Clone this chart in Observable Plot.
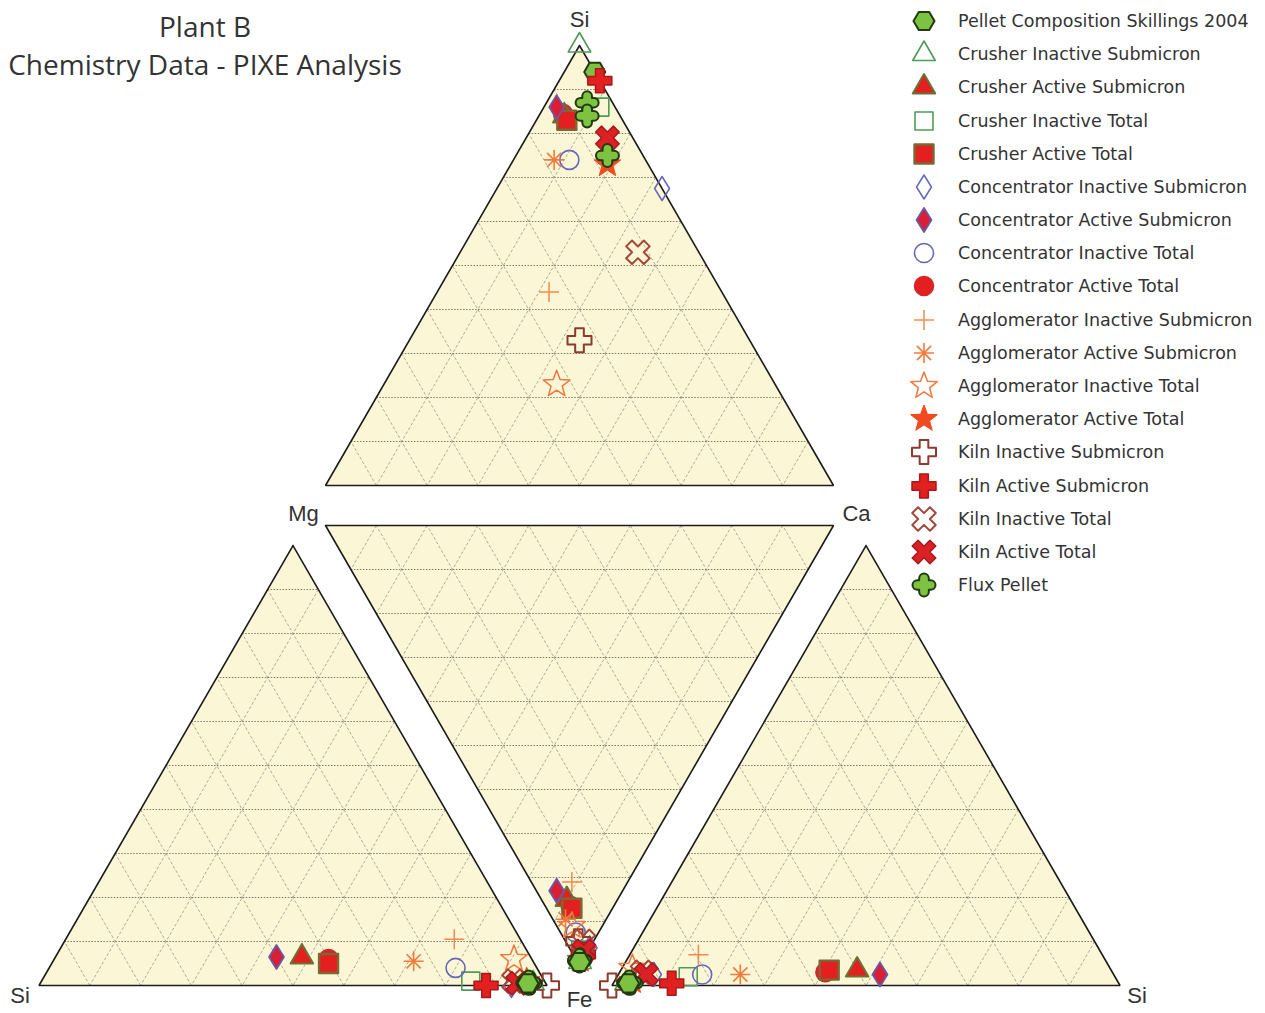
<!DOCTYPE html>
<html><head><meta charset="utf-8">
<script src="https://cdn.jsdelivr.net/npm/d3@7"></script>
<script src="https://cdn.jsdelivr.net/npm/@observablehq/plot@0.6"></script>
<style>
body{margin:0;background:#fff;}
#wrap{position:relative;width:1265px;height:1013px;overflow:hidden;background:#fff;}
#title{position:absolute;left:0;top:7px;width:410px;font-family:"Open Sans";font-size:28px;color:#333;text-align:center;line-height:38px;white-space:nowrap;}
.row{position:absolute;left:909px;height:30px;display:flex;align-items:center;white-space:nowrap;}
.row span{margin-left:19px;font-family:"DejaVu Sans";font-size:17.5px;color:#333;}
</style></head>
<body><div id="wrap"><div id="chart"></div>
<div id="title">Plant B<br>Chemistry Data - PIXE Analysis</div>
<div id="legend"></div></div>
<script>
// ---------- DATA ----------
const series = [
  "Pellet Composition Skillings 2004",
  "Crusher Inactive Submicron",
  "Crusher Active Submicron",
  "Crusher Inactive Total",
  "Crusher Active Total",
  "Concentrator Inactive Submicron",
  "Concentrator Active Submicron",
  "Concentrator Inactive Total",
  "Concentrator Active Total",
  "Agglomerator Inactive Submicron",
  "Agglomerator Active Submicron",
  "Agglomerator Inactive Total",
  "Agglomerator Active Total",
  "Kiln Inactive Submicron",
  "Kiln Active Submicron",
  "Kiln Inactive Total",
  "Kiln Active Total",
  "Flux Pellet"
];

// top face: % Si, Mg, Ca
const siMgCa = [
  ["Pellet Composition Skillings 2004", 94, 0, 6],
  ["Crusher Inactive Submicron", 100, 0, 0],
  ["Crusher Active Submicron", 84, 11, 5],
  ["Crusher Inactive Total", 86, 3, 11],
  ["Crusher Active Total", 83, 11, 6],
  ["Concentrator Inactive Submicron", 67.5, 0, 32.5],
  ["Concentrator Active Submicron", 86, 11.5, 2.5],
  ["Concentrator Inactive Total", 74, 15, 11],
  ["Concentrator Active Total", 84.5, 11, 4.5],
  ["Agglomerator Inactive Submicron", 44, 34, 22],
  ["Agglomerator Active Submicron", 74, 18, 8],
  ["Agglomerator Inactive Total", 23, 43, 34],
  ["Agglomerator Active Total", 73, 8, 19],
  ["Kiln Inactive Submicron", 33, 33.5, 33.5],
  ["Kiln Active Submicron", 92, 0, 8],
  ["Kiln Inactive Total", 53, 12, 35],
  ["Kiln Active Total", 79, 5, 16],
  ["Flux Pellet", 87, 5, 8],
  ["Flux Pellet", 84, 6.5, 9.5],
  ["Flux Pellet", 75, 7, 18]
];

// centre face: % Mg, Ca, Fe
const mgCaFe = [
  ["Pellet Composition Skillings 2004", 0.4, 0.4, 99.2],
  ["Crusher Inactive Submicron", 0.3, 0.5, 99.2],
  ["Crusher Active Submicron", 10, 5, 85],
  ["Crusher Inactive Total", 1.5, 2, 96.5],
  ["Crusher Active Total", 8, 5, 87],
  ["Concentrator Inactive Submicron", 0, 4, 96],
  ["Concentrator Active Submicron", 13, 4, 83],
  ["Concentrator Inactive Total", 4.5, 3, 92.5],
  ["Concentrator Active Total", 8.5, 5, 86.5],
  ["Agglomerator Inactive Submicron", 11, 8, 81],
  ["Agglomerator Active Submicron", 8, 2.5, 89.5],
  ["Agglomerator Inactive Total", 6, 3, 91],
  ["Agglomerator Active Total", 0.5, 0.8, 98.7],
  ["Kiln Inactive Submicron", 3, 2.5, 94.5],
  ["Kiln Active Submicron", 0.5, 2, 97.5],
  ["Kiln Inactive Total", 2, 3.5, 94.5],
  ["Kiln Active Total", 0.8, 2.5, 96.7],
  ["Flux Pellet", 0.5, 0.5, 99],
  ["Flux Pellet", 0.5, 0.8, 98.7],
  ["Flux Pellet", 0.6, 0.6, 98.8]
];

// lower-left face: % Mg, Si, Fe
const mgSiFe = [
  ["Pellet Composition Skillings 2004", 0.5, 3.5, 96],
  ["Crusher Inactive Submicron", 0.5, 2.5, 97],
  ["Crusher Active Submicron", 6.5, 45, 48.5],
  ["Crusher Inactive Total", 1, 14.5, 84.5],
  ["Crusher Active Total", 5, 40.5, 54.5],
  ["Concentrator Inactive Submicron", 0, 7, 93],
  ["Concentrator Active Submicron", 6.5, 50, 43.5],
  ["Concentrator Inactive Total", 4, 16, 80],
  ["Concentrator Active Total", 6, 40, 54],
  ["Agglomerator Inactive Submicron", 10.5, 13, 76.5],
  ["Agglomerator Active Submicron", 5.5, 23.5, 71],
  ["Agglomerator Inactive Total", 6, 3.5, 90.5],
  ["Agglomerator Active Total", 1, 3.5, 95.5],
  ["Kiln Inactive Submicron", 0, 0, 100],
  ["Kiln Active Submicron", 0, 12, 88],
  ["Kiln Inactive Total", 1, 6, 93],
  ["Kiln Active Total", 0.5, 5.5, 94],
  ["Flux Pellet", 0.5, 3, 96.5],
  ["Flux Pellet", 0.5, 3.5, 96],
  ["Flux Pellet", 0.8, 3.2, 96]
];

// lower-right face: % Ca, Fe, Si
const caFeSi = [
  ["Pellet Composition Skillings 2004", 0.5, 96.5, 3],
  ["Crusher Inactive Submicron", 0.5, 97, 2.5],
  ["Crusher Active Submicron", 3.5, 50, 46.5],
  ["Crusher Inactive Total", 2, 84, 14],
  ["Crusher Active Total", 3.5, 55.5, 41],
  ["Concentrator Inactive Submicron", 2.5, 90.5, 7],
  ["Concentrator Active Submicron", 2.5, 46, 51.5],
  ["Concentrator Inactive Total", 2.5, 81, 16.5],
  ["Concentrator Active Total", 3, 56.5, 40.5],
  ["Agglomerator Inactive Submicron", 7, 79.5, 13.5],
  ["Agglomerator Active Submicron", 2.5, 73.5, 24],
  ["Agglomerator Inactive Total", 4, 94, 2],
  ["Agglomerator Active Total", 1, 95.5, 3.5],
  ["Kiln Inactive Submicron", 0, 100, 0],
  ["Kiln Active Submicron", 0.5, 88, 11.5],
  ["Kiln Inactive Total", 3, 92.5, 4.5],
  ["Kiln Active Total", 2.5, 92, 5.5],
  ["Flux Pellet", 0.5, 96.5, 3],
  ["Flux Pellet", 0.5, 96, 3.5],
  ["Flux Pellet", 0.8, 96.2, 3]
];

// ---------- SYMBOLS ----------
const rad = s => Math.sqrt(s / Math.PI);
function crossPts(r, w) {
  return [[-w,-r],[w,-r],[w,-w],[r,-w],[r,w],[w,w],[w,r],[-w,r],[-w,w],[-r,w],[-r,-w],[-w,-w]];
}
function poly(c, pts) { pts.forEach((p, i) => i ? c.lineTo(p[0], p[1]) : c.moveTo(p[0], p[1])); c.closePath(); }
const sym = {
  hexagon: {draw(c, s) { const r = rad(s); const p = d3.range(6).map(k => [r*Math.cos(k*Math.PI/3), r*Math.sin(k*Math.PI/3)]); poly(c, p); }},
  triangle: {draw(c, s) { const r = rad(s); poly(c, [[0,-r],[r*0.866,r*0.5],[-r*0.866,r*0.5]]); }},
  square: {draw(c, s) { const r = rad(s); poly(c, [[-r,-r],[r,-r],[r,r],[-r,r]]); }},
  diamond: {draw(c, s) { const r = rad(s); poly(c, [[0,-r],[0.62*r,0],[0,r],[-0.62*r,0]]); }},
  circle: {draw(c, s) { const r = rad(s); c.moveTo(r, 0); c.arc(0, 0, r, 0, 2*Math.PI); }},
  plus: {draw(c, s) { const r = rad(s); c.moveTo(-r,0); c.lineTo(r,0); c.moveTo(0,-r); c.lineTo(0,r); }},
  asterisk: {draw(c, s) { const r = rad(s); for (let k = 0; k < 4; k++) { const a = k*Math.PI/4; c.moveTo(-r*Math.cos(a), -r*Math.sin(a)); c.lineTo(r*Math.cos(a), r*Math.sin(a)); } }},
  star: {draw(c, s) { const r = rad(s); const p = d3.range(10).map(k => { const a = -Math.PI/2 + k*Math.PI/5; const rr = k % 2 ? r*0.42 : r; return [rr*Math.cos(a), rr*Math.sin(a)]; }); poly(c, p); }},
  cross: {draw(c, s) { const r = rad(s); poly(c, crossPts(r, 0.36*r)); }},
  xcross: {draw(c, s) { const r = rad(s); const q = Math.SQRT1_2; poly(c, crossPts(r, 0.33*r).map(([x,y]) => [q*(x-y), q*(x+y)])); }},
  clover: {draw(c, s) {
    const r = rad(s), w = 0.42*r, e = r - w;
    c.moveTo(-w, -w); c.lineTo(-w, -e); c.arc(0, -e, w, Math.PI, 2*Math.PI);
    c.lineTo(w, -w); c.lineTo(e, -w); c.arc(e, 0, w, -Math.PI/2, Math.PI/2);
    c.lineTo(w, w); c.lineTo(w, e); c.arc(0, e, w, 0, Math.PI);
    c.lineTo(-w, w); c.lineTo(-e, w); c.arc(-e, 0, w, Math.PI/2, 3*Math.PI/2);
    c.closePath();
  }}
};

const RED = "#e3201f";
const styles = {
  "Pellet Composition Skillings 2004": {symbol: sym.hexagon, r: 10.5, fill: "#7ec242", stroke: "#203a12", sw: 2},
  "Crusher Inactive Submicron": {symbol: sym.triangle, r: 13, fill: "none", stroke: "#4f9b58", sw: 1.6},
  "Crusher Active Submicron": {symbol: sym.triangle, r: 13, fill: RED, stroke: "#6a7334", sw: 2},
  "Crusher Inactive Total": {symbol: sym.square, r: 9, fill: "none", stroke: "#4f9b58", sw: 1.6},
  "Crusher Active Total": {symbol: sym.square, r: 9.5, fill: RED, stroke: "#7a6936", sw: 2.4},
  "Concentrator Inactive Submicron": {symbol: sym.diamond, r: 12, fill: "none", stroke: "#6567b9", sw: 1.5},
  "Concentrator Active Submicron": {symbol: sym.diamond, r: 12, fill: "#d81f33", stroke: "#6a58aa", sw: 1.8},
  "Concentrator Inactive Total": {symbol: sym.circle, r: 9.5, fill: "none", stroke: "#6567b9", sw: 1.6},
  "Concentrator Active Total": {symbol: sym.circle, r: 9.5, fill: RED, stroke: "#d2262f", sw: 1.5},
  "Agglomerator Inactive Submicron": {symbol: sym.plus, r: 10, fill: "none", stroke: "#f28a4e", sw: 1.5},
  "Agglomerator Active Submicron": {symbol: sym.asterisk, r: 10, fill: "none", stroke: "#f27b3c", sw: 1.6},
  "Agglomerator Inactive Total": {symbol: sym.star, r: 14, fill: "none", stroke: "#ee7842", sw: 1.5},
  "Agglomerator Active Total": {symbol: sym.star, r: 14, fill: "#f14a1f", stroke: "#f14a1f", sw: 1},
  "Kiln Inactive Submicron": {symbol: sym.cross, r: 12, fill: "none", stroke: "#8e3a2c", sw: 2},
  "Kiln Active Submicron": {symbol: sym.cross, r: 12, fill: RED, stroke: "#a51b1d", sw: 1.5},
  "Kiln Inactive Total": {symbol: sym.xcross, r: 12.5, fill: "none", stroke: "#a2493b", sw: 2},
  "Kiln Active Total": {symbol: sym.xcross, r: 12.5, fill: "#db2126", stroke: "#a51b1d", sw: 1.5},
  "Flux Pellet": {symbol: sym.clover, r: 11.5, fill: "#7ec242", stroke: "#203a12", sw: 2}
};

// ---------- LAYOUT (unfolded tetrahedron, side = 1) ----------
const faces = [
  {name: "top", data: siMgCa, apex: 0, verts: [[0, 1.8504], [-0.5, 0.9843], [0.5, 0.9843]]},
  {name: "center", data: mgCaFe, apex: 2, verts: [[-0.5, 0.9055], [0.5, 0.9055], [0, 0.0394]]},
  {name: "left", data: mgSiFe, apex: 0, verts: [[-0.564, 0.8661], [-1.064, 0], [-0.064, 0]]},
  {name: "right", data: caFeSi, apex: 0, verts: [[0.564, 0.8661], [0.064, 0], [1.064, 0]]}
];
function proj(face, c) {
  const t = c[0] + c[1] + c[2], V = face.verts;
  return [(c[0]*V[0][0] + c[1]*V[1][0] + c[2]*V[2][0]) / t,
          (c[0]*V[0][1] + c[1]*V[1][1] + c[2]*V[2][1]) / t];
}

const vertexLabels = [
  {text: "Si", face: 0, v: 0, dx: 0, dy: -26},
  {text: "Mg", face: 1, v: 0, dx: -22, dy: -12},
  {text: "Ca", face: 1, v: 1, dx: 23, dy: -12},
  {text: "Si", face: 2, v: 1, dx: -19, dy: 10},
  {text: "Fe", face: 1, v: 2, dx: 0, dy: 34},
  {text: "Si", face: 3, v: 2, dx: 17, dy: 10}
];

const drawOrder = ["Concentrator Active Total", ...series.filter(s => s !== "Concentrator Active Total")];

const marks = [];
for (const face of faces) {
  const V = face.verts;
  const closed = [...V, V[0]];
  marks.push(Plot.line(closed, {x: d => d[0], y: d => d[1], fill: "#fbf6d5", stroke: "none"}));
  const grid = [];
  for (let i = 0; i < 3; i++) {
    const j = (i + 1) % 3, l = (i + 2) % 3;
    for (let k = 1; k < 10; k++) {
      const f = k / 10;
      grid.push({
        x1: f*V[i][0] + (1-f)*V[j][0], y1: f*V[i][1] + (1-f)*V[j][1],
        x2: f*V[i][0] + (1-f)*V[l][0], y2: f*V[i][1] + (1-f)*V[l][1],
        h: i === face.apex
      });
    }
  }
  marks.push(Plot.link(grid.filter(d => !d.h), {x1: "x1", y1: "y1", x2: "x2", y2: "y2", stroke: "#8d8c80", strokeWidth: 0.7, strokeDasharray: "3,2"}));
  marks.push(Plot.link(grid.filter(d => d.h), {x1: "x1", y1: "y1", x2: "x2", y2: "y2", stroke: "#7f7b68", strokeWidth: 1, strokeDasharray: "1.5,1.5"}));
  marks.push(Plot.line(closed, {x: d => d[0], y: d => d[1], stroke: "#1c1c1c", strokeWidth: 1.6, strokeLinejoin: "miter"}));
}
for (const face of faces) {
  const order = face.name === "top" ? drawOrder : [...drawOrder.filter(s => s !== series[0]), series[0]];
  for (const name of order) {
    const st = styles[name];
    const rows = face.data.filter(d => d[0] === name);
    marks.push(Plot.dot(rows, {
      x: d => proj(face, d.slice(1))[0], y: d => proj(face, d.slice(1))[1],
      symbol: st.symbol, r: st.r, fill: st.fill, stroke: st.stroke, strokeWidth: st.sw, strokeLinejoin: "round"
    }));
  }
}
for (const lab of vertexLabels) {
  marks.push(Plot.text([lab], {
    x: d => faces[d.face].verts[d.v][0], y: d => faces[d.face].verts[d.v][1], text: d => d.text,
    dx: lab.dx, dy: lab.dy, fontSize: 22, fontFamily: "Liberation Sans", fill: "#333"
  }));
}

const chart = Plot.plot({
  width: 1265, height: 1013, margin: 0,
  x: {domain: [-1.1398, 1.3504], axis: null},
  y: {domain: [-0.0551, 1.9390], axis: null},
  style: {background: "white"},
  marks
});
document.getElementById("chart").appendChild(chart);

// ---------- LEGEND ----------
const legend = document.getElementById("legend");
series.forEach((name, i) => {
  const st = styles[name];
  const row = document.createElement("div");
  row.className = "row";
  row.style.top = (21 + i * 33.18 - 15) + "px";
  const path = d3.symbol(st.symbol, Math.PI * st.r * st.r)();
  row.innerHTML = `<svg width="30" height="30" style="overflow:visible"><path transform="translate(15,15)" d="${path}" fill="${st.fill}" stroke="${st.stroke}" stroke-width="${st.sw}" stroke-linejoin="round"/></svg><span>${name}</span>`;
  legend.appendChild(row);
});
</script>
</body></html>
